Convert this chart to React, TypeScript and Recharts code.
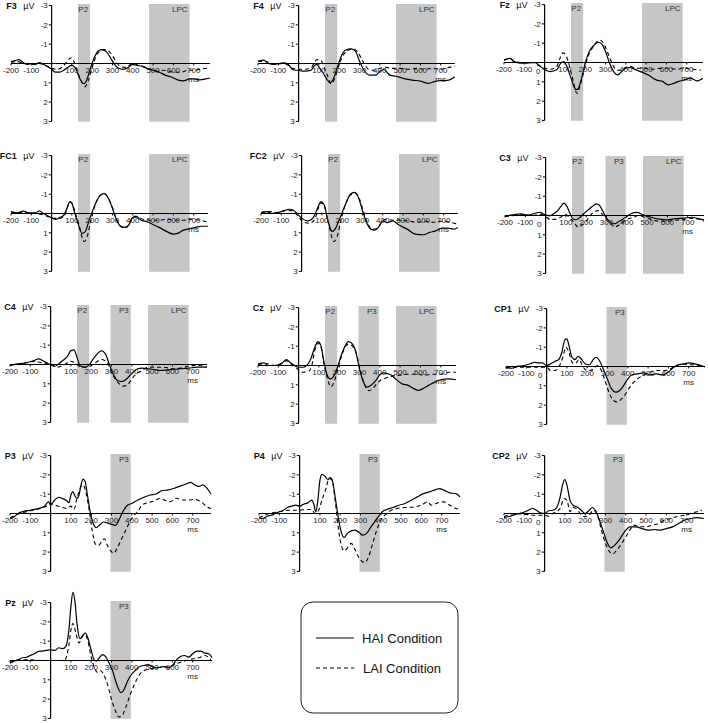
import React from 'react';
import { LineChart, Line, XAxis, YAxis, ReferenceLine, ReferenceArea, ReferenceDot } from 'recharts';

// [ms, µV] pairs (negative is up)
type Pt = [number, number];

const F3_HAI: Pt[] = [[-200,-0.1],[-180,-0.15],[-160,-0.2],[-140,-0.05],[-120,0.05],[-100,0],[-80,0.05],[-60,-0.05],[-40,0.05],[-20,0.15],[0,0.3],[20,0.45],[40,0.45],[60,0.35],[80,0.2],[100,0.1],[120,0.3],[140,0.8],[160,1.05],[175,0.8],[190,0.3],[210,-0.3],[230,-0.65],[250,-0.72],[270,-0.6],[290,-0.3],[310,0.05],[330,0.25],[350,0.3],[370,0.25],[400,0.05],[420,0.1],[450,0.15],[480,0.3],[500,0.35],[530,0.45],[560,0.6],[590,0.7],[620,0.85],[650,0.9],[680,0.8],[700,0.8],[730,0.85],[760,0.8],[780,0.75]];
const F3_LAI: Pt[] = [[-200,-0.05],[-170,-0.1],[-140,0],[-100,0.05],[-60,0],[-30,0.1],[0,0.25],[30,0.3],[60,0.1],[80,-0.15],[95,-0.3],[110,-0.1],[130,0.5],[150,1.0],[165,1.2],[180,0.9],[200,0.2],[220,-0.4],[240,-0.65],[260,-0.72],[280,-0.65],[300,-0.4],[320,-0.05],[340,0.15],[360,0.2],[380,0.1],[400,0],[430,0.1],[460,0.2],[490,0.3],[520,0.4],[550,0.35],[580,0.4],[610,0.45],[640,0.45],[670,0.35],[700,0.35],[730,0.3],[760,0.25],[780,0.3]];

const F4_HAI: Pt[] = [[-200,-0.12],[-170,-0.17],[-150,0],[-120,0.05],[-100,0],[-70,-0.03],[-50,0.05],[-30,0.31],[0,0.36],[30,0.4],[60,0.36],[80,0.09],[90,0.05],[100,0.19],[120,0.48],[140,0.83],[155,1.0],[170,0.83],[190,0.22],[210,-0.38],[230,-0.69],[260,-0.76],[280,-0.64],[300,-0.12],[320,0.31],[350,0.6],[380,0.6],[400,0.4],[420,0.31],[450,0.6],[480,0.66],[520,0.78],[560,0.86],[600,0.91],[640,1.03],[660,0.97],[700,0.88],[720,0.88],[740,0.86],[770,0.69]];
const F4_LAI: Pt[] = [[-200,-0.1],[-160,-0.1],[-120,0.05],[-80,0],[-50,0.1],[-30,0.25],[0,0.3],[30,0.3],[60,0.25],[80,-0.1],[90,-0.2],[110,-0.15],[130,0.3],[145,0.7],[160,1.05],[175,0.85],[195,0.2],[215,-0.35],[240,-0.65],[270,-0.76],[290,-0.6],[310,-0.25],[325,0.05],[345,0.3],[370,0.35],[400,0.25],[430,0.2],[460,0.25],[500,0.25],[540,0.3],[580,0.25],[620,0.3],[660,0.25],[700,0.3],[740,0.2],[770,0.15]];

const FZ_HAI: Pt[] = [[-200,-0.14],[-170,-0.22],[-150,-0.05],[-120,0.03],[-100,0.03],[-50,0],[-30,0.12],[0,0.38],[30,0.47],[60,0.38],[80,0.03],[95,-0.05],[110,0.21],[130,0.81],[155,1.41],[165,1.36],[180,0.9],[200,0.03],[220,-0.57],[245,-0.91],[265,-1.05],[285,-0.91],[300,-0.57],[320,0.03],[340,0.47],[360,0.64],[380,0.47],[400,0.29],[420,0.26],[450,0.38],[480,0.5],[510,0.64],[550,0.9],[580,0.98],[610,1.16],[630,1.1],[660,0.98],[690,0.9],[720,0.81],[750,0.95],[780,0.81]];
const FZ_LAI: Pt[] = [[-200,-0.1],[-170,-0.2],[-150,-0.05],[-110,0],[-60,0],[-30,0.15],[0,0.3],[30,0.35],[60,0.2],[75,-0.2],[90,-0.5],[100,-0.45],[115,-0.1],[135,0.7],[160,1.6],[172,1.3],[190,0.6],[210,-0.2],[235,-0.75],[260,-1.1],[275,-1.15],[295,-0.9],[315,-0.4],[335,0.1],[355,0.4],[375,0.4],[400,0.25],[420,0.2],[450,0.3],[490,0.3],[530,0.35],[570,0.3],[610,0.3],[650,0.35],[690,0.3],[730,0.35],[770,0.4]];

const FC1_HAI: Pt[] = [[-200,-0.09],[-170,-0.03],[-140,-0.12],[-110,-0.03],[-80,-0.03],[-60,-0.14],[-40,0],[-10,0.17],[20,0.31],[40,0.21],[60,0.09],[75,-0.26],[90,-0.6],[100,-0.52],[110,-0.17],[130,0.52],[150,1.03],[165,0.95],[180,0.52],[200,-0.09],[220,-0.6],[245,-1.0],[260,-1.03],[280,-0.78],[300,-0.26],[320,0.34],[340,0.66],[360,0.72],[380,0.6],[400,0.21],[420,0.17],[440,0.34],[470,0.43],[500,0.57],[530,0.72],[570,0.95],[600,1.07],[620,1.03],[650,0.86],[680,0.78],[700,0.74],[740,0.66],[770,0.66]];
const FC1_LAI: Pt[] = [[-200,-0.08],[-160,-0.05],[-120,-0.05],[-80,0],[-50,0.05],[-20,0.15],[10,0.25],[40,0.25],[60,0.15],[75,-0.2],[90,-0.62],[100,-0.55],[115,-0.1],[135,0.6],[160,1.45],[175,1.2],[195,0.3],[215,-0.45],[240,-0.95],[260,-1.0],[280,-0.8],[300,-0.3],[320,0.3],[345,0.7],[365,0.75],[385,0.5],[400,0.15],[420,0.15],[450,0.3],[490,0.35],[530,0.35],[570,0.3],[610,0.35],[650,0.35],[690,0.3],[730,0.35],[770,0.45]];

const FC2_HAI: Pt[] = [[-200,-0.05],[-170,-0.1],[-150,0],[-120,-0.05],[-100,-0.1],[-80,-0.17],[-60,-0.22],[-40,-0.17],[-20,0.03],[0,0.24],[30,0.38],[60,0.17],[80,-0.31],[95,-0.62],[110,-0.48],[130,0.38],[150,0.93],[165,0.81],[180,0.47],[200,-0.05],[220,-0.57],[240,-1.0],[260,-1.09],[280,-0.83],[300,-0.14],[320,0.47],[340,0.81],[360,0.86],[380,0.69],[400,0.38],[420,0.47],[450,0.38],[480,0.6],[520,0.81],[560,1.07],[600,1.1],[630,0.98],[660,0.9],[690,0.76],[720,0.76],[750,0.81],[770,0.72]];
const FC2_LAI: Pt[] = [[-200,-0.05],[-160,-0.1],[-120,-0.05],[-80,-0.15],[-50,-0.15],[-20,0.1],[10,0.45],[40,0.5],[65,0.3],[80,-0.2],[95,-0.55],[110,-0.45],[130,0.4],[160,1.45],[175,1.2],[195,0.3],[215,-0.45],[240,-0.95],[265,-1.05],[285,-0.75],[305,-0.1],[325,0.5],[345,0.8],[365,0.8],[385,0.6],[400,0.35],[420,0.3],[450,0.35],[490,0.35],[530,0.4],[570,0.45],[610,0.4],[650,0.45],[690,0.4],[730,0.45],[770,0.55]];

const C3_HAI: Pt[] = [[-200,0.02],[-160,-0.03],[-120,-0.09],[-90,0],[-60,-0.09],[-30,-0.16],[0,-0.03],[20,0.02],[40,-0.09],[60,-0.26],[75,-0.47],[90,-0.64],[105,-0.47],[120,-0.12],[135,0.19],[150,0.22],[170,0.09],[190,-0.12],[210,-0.29],[230,-0.47],[250,-0.6],[265,-0.53],[280,-0.26],[300,0.14],[320,0.36],[340,0.43],[360,0.31],[380,0.19],[400,0.05],[420,-0.09],[450,-0.16],[480,-0.03],[520,0.09],[560,0.19],[600,0.22],[640,0.16],[680,0.14],[720,0.09],[760,0.19],[780,0.22]];
const C3_LAI: Pt[] = [[-200,0.05],[-150,0],[-100,-0.05],[-60,0],[-20,-0.05],[0,0.05],[20,0.2],[50,0.2],[80,0.05],[100,-0.05],[120,0.15],[140,0.35],[160,0.6],[180,0.5],[200,0.3],[220,0],[240,-0.2],[260,-0.25],[280,-0.05],[300,0.2],[320,0.4],[340,0.6],[360,0.5],[380,0.35],[400,0.2],[430,0.1],[460,0],[490,0.1],[520,0.2],[560,0.3],[600,0.3],[640,0.25],[680,0.2],[720,0.15],[760,0.2],[780,0.3]];

const C4_HAI: Pt[] = [[-200,0.02],[-160,-0.03],[-120,-0.09],[-80,-0.21],[-60,-0.29],[-40,-0.21],[-20,-0.09],[0,0.02],[20,0.09],[40,-0.03],[60,-0.21],[80,-0.38],[100,-0.72],[115,-0.76],[130,-0.38],[145,0.05],[170,0.14],[190,0.02],[210,-0.29],[230,-0.55],[250,-0.72],[270,-0.55],[290,0.02],[310,0.53],[330,0.83],[350,0.88],[370,0.79],[390,0.57],[410,0.36],[430,0.22],[450,0.19],[480,0.22],[510,0.26],[540,0.31],[570,0.29],[600,0.26],[640,0.22],[680,0.19],[720,0.14],[770,0.14]];
const C4_LAI: Pt[] = [[-200,0.05],[-120,-0.09],[-80,-0.16],[-40,-0.09],[0,-0.03],[30,0.14],[60,0.05],[100,-0.16],[120,-0.09],[150,0.14],[180,0.14],[220,-0.09],[250,-0.26],[280,-0.09],[300,0.4],[330,0.91],[360,1.12],[380,1.05],[400,0.74],[430,0.43],[450,0.31],[480,0.14],[520,0.14],[560,0.14],[600,0.22],[640,0.19],[700,0.05],[730,0.05],[770,0.14]];

const CZ_HAI: Pt[] = [[-200,-0.09],[-170,-0.14],[-150,0],[-120,0],[-100,-0.03],[-80,-0.14],[-60,-0.31],[-40,-0.14],[-20,0],[0,0.09],[20,0.09],[40,0],[60,-0.34],[80,-0.95],[95,-1.24],[110,-1.03],[125,-0.17],[140,0.48],[155,0.69],[170,0.6],[190,0.14],[210,-0.52],[230,-1.03],[245,-1.24],[260,-1.17],[280,-0.78],[300,0.17],[320,0.86],[335,1.12],[355,1.03],[380,0.78],[400,0.48],[420,0.38],[440,0.43],[460,0.52],[480,0.72],[510,0.95],[540,1.03],[570,1.21],[590,1.29],[610,1.21],[640,1.03],[670,0.86],[700,0.74],[740,0.69],[775,0.74]];
const CZ_LAI: Pt[] = [[-200,-0.05],[-160,-0.1],[-120,0],[-80,-0.1],[-60,-0.25],[-40,-0.1],[-10,0.15],[20,0.35],[50,0.3],[65,0],[80,-0.8],[95,-1.15],[110,-0.95],[125,-0.1],[140,0.6],[160,1.1],[175,0.85],[195,0.1],[215,-0.6],[235,-1.05],[250,-1.1],[265,-1.0],[285,-0.6],[305,0.3],[325,1.0],[345,1.3],[365,1.2],[385,0.95],[405,0.75],[430,0.65],[460,0.55],[500,0.5],[540,0.45],[580,0.45],[620,0.5],[660,0.45],[700,0.45],[740,0.35],[775,0.35]];

const CP1_HAI: Pt[] = [[-200,0.03],[-170,0.09],[-140,-0.02],[-110,-0.05],[-80,-0.14],[-60,-0.22],[-40,-0.19],[-20,-0.19],[0,-0.05],[20,-0.14],[40,-0.26],[60,-0.36],[75,-0.74],[90,-1.38],[100,-1.43],[110,-1.09],[125,-0.48],[140,-0.36],[155,-0.53],[170,-0.4],[190,-0.14],[210,-0.09],[230,-0.36],[245,-0.48],[260,-0.31],[280,0.16],[300,0.67],[320,1.16],[340,1.33],[360,1.24],[380,0.98],[400,0.64],[420,0.43],[450,0.38],[480,0.33],[510,0.43],[540,0.38],[570,0.43],[600,0.29],[620,0.09],[650,-0.09],[680,-0.14],[700,-0.19],[730,-0.14],[760,-0.05],[780,0.03]];
const CP1_LAI: Pt[] = [[-200,0.09],[-140,0.03],[-80,0.03],[0,0.03],[20,0.21],[40,0.21],[60,0.03],[80,-0.48],[95,-1.0],[110,-0.74],[125,-0.22],[140,-0.14],[160,-0.36],[180,0.03],[200,0.21],[230,0.16],[250,-0.05],[270,0.21],[290,0.81],[310,1.41],[330,1.76],[350,1.84],[370,1.67],[390,1.41],[410,1.07],[430,0.81],[460,0.55],[500,0.33],[540,0.21],[580,0.21],[610,0.12],[640,-0.05],[670,-0.14],[700,-0.09],[730,-0.09],[775,-0.02]];

const P3_HAI: Pt[] = [[-200,0.26],[-180,0.17],[-160,0],[-140,-0.09],[-100,-0.17],[-60,-0.26],[-30,-0.38],[-10,-0.61],[0,-0.44],[20,-0.7],[40,-0.84],[60,-0.77],[80,-0.66],[90,-0.56],[100,-0.96],[110,-1.13],[120,-0.91],[130,-0.79],[140,-0.96],[150,-1.48],[160,-1.78],[170,-1.66],[180,-1.05],[195,-0.09],[210,0.52],[225,0.73],[240,0.61],[260,0.44],[280,0.49],[300,0.56],[320,0.61],[340,0.26],[360,-0.17],[380,-0.44],[400,-0.52],[430,-0.7],[460,-0.84],[490,-0.96],[520,-1.01],[550,-1.19],[580,-1.22],[610,-1.31],[640,-1.43],[670,-1.54],[690,-1.61],[710,-1.48],[730,-1.4],[750,-1.48],[770,-1.31],[790,-1.01]];
const P3_LAI: Pt[] = [[-200,0.23],[-160,0.03],[-100,-0.14],[-50,-0.26],[-10,-0.44],[0,-0.52],[20,-0.44],[40,-0.38],[60,-0.31],[80,-0.26],[100,-0.38],[115,-0.21],[130,-0.79],[150,-1.4],[160,-1.48],[175,-1.05],[190,-0.17],[205,0.87],[220,1.57],[235,1.66],[250,1.48],[265,1.31],[280,1.66],[295,1.92],[310,2.06],[330,1.75],[350,1.31],[370,0.87],[390,0.44],[410,0.09],[430,-0.09],[450,-0.44],[480,-0.56],[510,-0.65],[540,-0.79],[560,-0.7],[590,-0.61],[620,-0.79],[650,-0.7],[680,-0.7],[710,-0.73],[740,-0.61],[770,-0.35],[790,-0.26]];

const P4_HAI: Pt[] = [[-200,0.21],[-180,0.26],[-160,0.14],[-140,0.09],[-120,0],[-100,-0.09],[-80,-0.17],[-60,-0.31],[-40,-0.38],[-20,-0.43],[0,-0.38],[20,-0.48],[40,-0.55],[60,-0.69],[70,-0.48],[80,-0.09],[90,-0.69],[100,-1.72],[110,-2.03],[125,-1.93],[140,-1.76],[150,-1.86],[160,-1.76],[175,-0.86],[190,0.17],[205,0.95],[220,1.24],[235,1.03],[255,0.9],[275,0.86],[295,1.0],[310,1.12],[330,1.03],[350,0.72],[370,0.43],[390,0.14],[410,-0.12],[430,-0.21],[460,-0.31],[490,-0.43],[520,-0.52],[550,-0.69],[580,-0.86],[610,-1.03],[640,-1.12],[670,-1.24],[690,-1.29],[710,-1.21],[740,-1.07],[770,-1.03],[790,-0.86]];
const P4_LAI: Pt[] = [[-200,0.21],[-150,0],[-100,-0.09],[-50,-0.17],[0,-0.17],[30,-0.21],[60,-0.21],[75,0],[90,-0.09],[110,-0.69],[130,-1.29],[145,-1.81],[160,-1.72],[175,-0.69],[190,0.69],[205,1.64],[220,1.93],[240,1.72],[255,1.55],[270,1.81],[290,2.24],[310,2.5],[320,2.55],[340,2.24],[360,1.55],[380,0.86],[400,0.34],[420,0.09],[440,-0.09],[460,-0.21],[480,-0.26],[520,-0.31],[560,-0.34],[600,-0.43],[630,-0.6],[650,-0.43],[680,-0.55],[710,-0.6],[740,-0.43],[770,-0.26],[790,-0.21]];

const CP2_HAI: Pt[] = [[-200,0.21],[-170,0.14],[-140,0.03],[-110,-0.03],[-80,-0.17],[-60,-0.26],[-40,-0.17],[-20,-0.03],[0,0],[20,-0.14],[40,-0.17],[60,-0.31],[75,-0.78],[90,-1.55],[100,-1.76],[110,-1.47],[125,-0.69],[140,-0.43],[160,-0.34],[180,-0.17],[200,0],[220,-0.17],[235,-0.31],[250,-0.17],[270,0.34],[290,0.95],[310,1.55],[325,1.78],[340,1.69],[360,1.47],[380,1.17],[400,0.86],[420,0.69],[450,0.69],[480,0.78],[510,0.86],[540,0.83],[570,0.86],[600,0.78],[630,0.69],[660,0.52],[690,0.34],[720,0.26],[750,0.21],[785,0.26]];
const CP2_LAI: Pt[] = [[-200,0.17],[-150,0],[-100,0.03],[-50,0.09],[0,0.09],[20,0.14],[40,0],[60,-0.09],[80,-0.34],[95,-0.78],[110,-0.69],[125,-0.09],[140,-0.31],[155,-0.26],[175,0],[200,0.17],[220,0.09],[240,-0.17],[260,0.09],[280,0.86],[300,1.55],[320,1.98],[335,2.1],[355,1.9],[380,1.55],[400,1.21],[420,0.86],[440,0.6],[470,0.69],[500,0.69],[530,0.6],[560,0.52],[590,0.34],[620,0.26],[650,0.17],[690,0.09],[720,0],[750,-0.09],[775,-0.17]];

const PZ_HAI: Pt[] = [[-200,0.09],[-180,0.03],[-160,-0.03],[-140,-0.14],[-120,-0.17],[-100,-0.26],[-80,-0.35],[-60,-0.47],[-40,-0.49],[-20,-0.52],[0,-0.56],[20,-0.52],[40,-0.66],[60,-0.61],[75,-0.73],[90,-1.57],[100,-2.79],[110,-3.53],[120,-3.05],[130,-1.92],[145,-1.13],[160,-1.31],[170,-1.43],[185,-1.13],[200,-0.52],[215,-0.03],[225,0.03],[240,-0.14],[255,-0.3],[270,-0.21],[290,0.17],[305,0.52],[320,1.05],[335,1.48],[345,1.66],[360,1.54],[380,1.05],[400,0.7],[420,0.49],[440,0.31],[460,0.26],[480,0.21],[500,0.31],[520,0.38],[540,0.35],[560,0.31],[580,0.38],[600,0.26],[620,-0.03],[640,-0.21],[660,-0.26],[680,-0.17],[700,-0.35],[720,-0.49],[740,-0.49],[760,-0.38],[780,-0.35],[795,-0.14]];
const PZ_LAI: Pt[] = [[-200,0.14],[-150,-0.03],[-100,-0.03],[-50,0],[0,0],[40,0],[70,-0.03],[90,-0.79],[100,-1.57],[110,-1.92],[125,-1.4],[140,-0.91],[155,-1.22],[170,-1.34],[185,-0.96],[200,-0.17],[215,0.35],[230,0.61],[245,0.52],[260,0.7],[280,1.22],[300,2.01],[320,2.62],[335,2.93],[350,2.88],[370,2.44],[390,1.83],[410,1.31],[430,0.87],[460,0.52],[490,0.44],[520,0.38],[550,0.35],[580,0.35],[610,0.21],[640,0.09],[670,0],[700,-0.09],[730,-0.14],[760,-0.26],[790,-0.03]];

// time windows (ms)
const P2_WIN: [number, number] = [130, 190];
const P3_WIN: [number, number] = [295, 395];
const LPC_WIN: [number, number] = [480, 680];

const Y_TICKS = [-3, -2, -1, 1, 2, 3];
const X_TICKS = [-200, -100, 100, 200, 300, 400, 500, 600, 700];

// geometry
const SX = 0.203; // px per ms
const YMAX = 3.6;
const PLOT_H = 139;
const ML = 28, MR = 8, MT = 4, MB = 4;
const CW = ML + 1000 * SX + MR;
const CH = MT + PLOT_H + MB;
const SY = PLOT_H / (2 * YMAX);

const FONT = '"Liberation Sans", Arial, Helvetica, sans-serif';

type Win = { label: string; win: [number, number] };
type PanelDef = { name: string; ox: number; oy: number; hai: Pt[]; lai: Pt[]; wins: Win[]; zero?: boolean };

const FRONT: Win[] = [{ label: 'P2', win: P2_WIN }, { label: 'LPC', win: LPC_WIN }];
const CENTRAL: Win[] = [{ label: 'P2', win: P2_WIN }, { label: 'P3', win: P3_WIN }, { label: 'LPC', win: LPC_WIN }];
const POST: Win[] = [{ label: 'P3', win: P3_WIN }];

const PANELS: PanelDef[] = [
    { name: 'F3', ox: 52, oy: 63, hai: F3_HAI, lai: F3_LAI, wins: FRONT },
    { name: 'F4', ox: 299, oy: 63, hai: F4_HAI, lai: F4_LAI, wins: FRONT },
    { name: 'Fz', ox: 545, oy: 62, hai: FZ_HAI, lai: FZ_LAI, wins: FRONT, zero: true },
    { name: 'FC1', ox: 52, oy: 213, hai: FC1_HAI, lai: FC1_LAI, wins: FRONT },
    { name: 'FC2', ox: 301.5, oy: 213, hai: FC2_HAI, lai: FC2_LAI, wins: FRONT },
    { name: 'C3', ox: 546, oy: 215, hai: C3_HAI, lai: C3_LAI, wins: CENTRAL, zero: true },
    { name: 'C4', ox: 51, oy: 364, hai: C4_HAI, lai: C4_LAI, wins: CENTRAL },
    { name: 'Cz', ox: 299, oy: 365, hai: CZ_HAI, lai: CZ_LAI, wins: CENTRAL },
    { name: 'CP1', ox: 546.5, oy: 366, hai: CP1_HAI, lai: CP1_LAI, wins: POST, zero: true },
    { name: 'P3', ox: 50.7, oy: 513, hai: P3_HAI, lai: P3_LAI, wins: POST },
    { name: 'P4', ox: 299.3, oy: 513, hai: P4_HAI, lai: P4_LAI, wins: POST },
    { name: 'CP2', ox: 545, oy: 513, hai: CP2_HAI, lai: CP2_LAI, wins: POST, zero: true },
    { name: 'Pz', ox: 50.7, oy: 660, hai: PZ_HAI, lai: PZ_LAI, wins: POST },
];

const toRows = (pts: Pt[]) => pts.map(([t, v]) => ({ t, v }));

const Panel = ({ p }: { p: PanelDef }) => {
    const left = p.ox - 200 * SX - ML;
    const top = p.oy - YMAX * SY - MT;
    const xEnd = p.hai[p.hai.length - 1][0];
    return (
        <div style={{ position: 'absolute', left, top }}>
            <LineChart width={CW} height={CH} margin={{ top: MT, right: MR, bottom: MB, left: ML }}>
                <XAxis type="number" dataKey="t" domain={[-200, 800]} hide allowDataOverflow />
                <YAxis type="number" dataKey="v" domain={[-YMAX, YMAX]} reversed hide allowDataOverflow />
                {p.wins.map(w => (
                    <ReferenceArea
                        key={w.label}
                        x1={w.win[0]}
                        x2={w.win[1]}
                        y1={-3.08}
                        y2={3.02}
                        fill="#c6c6c6"
                        fillOpacity={1}
                        stroke="none"
                        label={{ value: w.label, position: 'insideTopRight', offset: 2, fontSize: 8, fill: '#333' }}
                    />
                ))}
                {/* axes crossing at 0 ms / 0 µV */}
                <ReferenceLine segment={[{ x: -200, y: 0 }, { x: xEnd, y: 0 }]} stroke="#000" strokeWidth={1.2} />
                <ReferenceLine segment={[{ x: 0, y: -3 }, { x: 0, y: 3 }]} stroke="#000" strokeWidth={1.2} />
                {Y_TICKS.map(v => (
                    <ReferenceLine
                        key={'y' + v}
                        segment={[{ x: -14, y: v }, { x: 0, y: v }]}
                        stroke="#000"
                        label={{ value: String(v), position: 'left', offset: 1, fontSize: 8, fill: '#222' }}
                    />
                ))}
                {X_TICKS.map(t => (
                    <ReferenceLine
                        key={'x' + t}
                        segment={[{ x: t, y: 0 }, { x: t, y: 0.1 }]}
                        stroke="#000"
                        label={{ value: String(t), position: 'bottom', offset: 2, fontSize: 8, fill: '#222' }}
                    />
                ))}
                {p.zero && (
                    <ReferenceDot x={-32} y={0.46} r={0} fill="none" stroke="none"
                        label={{ value: '0', position: 'center', fontSize: 8, fill: '#222' }} />
                )}
                <ReferenceDot x={700} y={0.8} r={0} fill="none" stroke="none"
                    label={{ value: 'ms', position: 'center', fontSize: 8, fill: '#222' }} />
                <ReferenceDot x={-172} y={-3} r={0} fill="none" stroke="none"
                    label={{ value: p.name, position: 'left', offset: 0, fontSize: 9, fontWeight: 'bold', fill: '#111' }} />
                <ReferenceDot x={-84} y={-3} r={0} fill="none" stroke="none"
                    label={{ value: 'µV', position: 'left', offset: 0, fontSize: 9, fill: '#111' }} />
                <Line data={toRows(p.lai)} dataKey="v" type="monotone" stroke="#000" strokeWidth={1.1}
                    strokeDasharray="4 3" dot={false} isAnimationActive={false} />
                <Line data={toRows(p.hai)} dataKey="v" type="monotone" stroke="#000" strokeWidth={1.2}
                    dot={false} isAnimationActive={false} />
            </LineChart>
        </div>
    );
};

const LegendBox = () => (
    <svg width={160} height={114} style={{ position: 'absolute', left: 300, top: 601 }}>
        <rect x={1} y={1} width={157} height={111} rx={12} ry={12} fill="#fff" stroke="#222" strokeWidth={1} />
        <line x1={16} y1={37} x2={54} y2={37} stroke="#000" strokeWidth={1.2} />
        <text x={62} y={37} fontSize={13} dominantBaseline="central" fill="#111">HAI Condition</text>
        <line x1={16} y1={67} x2={54} y2={67} stroke="#000" strokeWidth={1.2} strokeDasharray="4 3" />
        <text x={63} y={67} fontSize={13} dominantBaseline="central" fill="#111">LAI Condition</text>
    </svg>
);

export default function App() {
    return (
        <div style={{ position: 'absolute', left: 0, top: 0, width: 708, height: 723, background: '#fff', fontFamily: FONT, overflow: 'hidden' }}>
            {PANELS.map(p => <Panel key={p.name} p={p} />)}
            <LegendBox />
        </div>
    );
}
